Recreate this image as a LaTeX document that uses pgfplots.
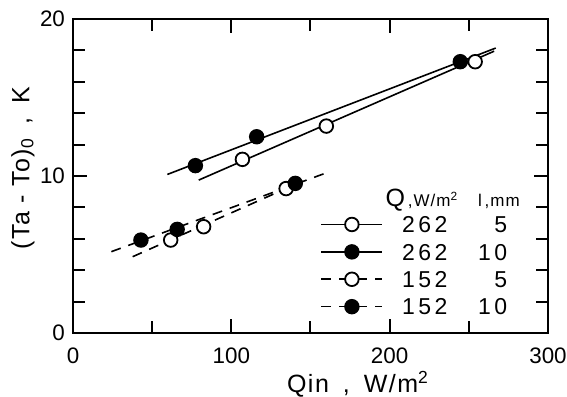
\documentclass[border=0pt]{standalone}
\usepackage{pgfplots}
\pgfplotsset{compat=1.18}
\usepackage{fontspec}
\setmainfont{Liberation Sans}
\newfontfamily\lsp[LetterSpace=15]{Liberation Sans}
\newfontfamily\lsa[LetterSpace=6]{Liberation Sans}
\begin{document}
\begin{tikzpicture}
\begin{axis}[
  name=ax,
  scale only axis,
  width=237.5pt, height=157pt,
  xmin=0, xmax=300, ymin=0, ymax=20,
  xtick={0,100,200,300}, minor xtick={50,150,250},
  ytick={0,10,20}, minor ytick={2,4,...,18},
  tick align=inside,
  major tick length=7pt, minor tick length=6pt,
  every axis/.append style={line width=1.4pt},
  axis line style={line width=1.4pt},
  tick style={line width=1pt, black},
  /pgf/number format/assume math mode=true,
  tick label style={font=\fontsize{11.2}{12}\selectfont},
  xticklabel style={yshift=-3.6pt},
  xlabel={\lsa Qin\hspace{7pt},\hspace{7pt}W/m\textsuperscript{2}},
  ylabel={\lsa (Ta - To)\textsubscript{0}\hspace{7pt},\hspace{7pt}K},
  every axis x label/.style={at={(rel axis cs:0.6,0)}, yshift=-25.5pt, anchor=center, font=\fontsize{12.5}{13}\selectfont},
  every axis y label/.style={at={(rel axis cs:0,0.525)}, xshift=-25pt, rotate=90, anchor=center, font=\fontsize{12.5}{13}\selectfont},
  legend style={draw=none, fill=none, at={(axis cs:155.5,7.53)}, anchor=north west, inner sep=0pt, row sep=5.4pt,
    font=\fontsize{11.5}{12}\selectfont,
    nodes={inner sep=0pt, text height=8.3pt, text depth=0pt},
    /tikz/every odd column/.style={column sep=9.5pt}},
  legend cell align=left,
]
% fitted lines
\addplot[forget plot, line width=0.8pt] coordinates {(79.4,9.74) (266,17.95)};
\addplot[forget plot, line width=0.8pt] coordinates {(59.6,10.1) (267,18.15)};
\addplot[forget plot, line width=0.8pt, dash pattern=on 5pt off 4pt] coordinates {(24.2,5.18) (160,10.2)};
\addplot[forget plot, line width=0.8pt, dash pattern=on 5pt off 4pt] coordinates {(37.7,4.86) (145,9.67)};
% data points
\addplot[only marks, mark=*, mark size=3.4pt, mark options={fill=white, draw=black, line width=0.9pt},
  legend image code/.code={\draw[sharp plot, line width=0.8pt, mark=*, mark size=3.4pt, mark options={fill=white, draw=black, line width=0.9pt, solid}, mark repeat=2, mark phase=2] plot coordinates {(0pt,0pt) (15.25pt,0pt) (30.5pt,0pt)};}]
  coordinates {(107,11.06) (160,13.18) (254,17.28)};
\addlegendentry{\makebox[52.5pt][s]{\lsp 262\hfill 5}}
\addplot[only marks, mark=*, mark size=3.4pt, mark options={fill=black, draw=black, line width=0.9pt},
  legend image code/.code={\draw[sharp plot, line width=0.8pt, mark=*, mark size=3.4pt, mark options={fill=black, draw=black, line width=0.9pt, solid}, mark repeat=2, mark phase=2] plot coordinates {(0pt,0pt) (15.25pt,0pt) (30.5pt,0pt)};}]
  coordinates {(77.3,10.66) (116,12.5) (244.6,17.28)};
\addlegendentry{\makebox[52.5pt][s]{\lsp 262\hfill 10}}
\addplot[only marks, mark=*, mark size=3.4pt, mark options={fill=white, draw=black, line width=0.9pt},
  legend image code/.code={\draw[sharp plot, line width=0.8pt, dash pattern=on 5pt off 4pt, mark=*, mark size=3.4pt, mark options={fill=white, draw=black, line width=0.9pt, solid}, mark repeat=2, mark phase=2] plot coordinates {(0pt,0pt) (15.25pt,0pt) (30.5pt,0pt)};}]
  coordinates {(61.7,5.92) (82.5,6.77) (134.6,9.2)};
\addlegendentry{\makebox[52.5pt][s]{\lsp 152\hfill 5}}
\addplot[only marks, mark=*, mark size=3.4pt, mark options={fill=black, draw=black, line width=0.9pt},
  legend image code/.code={\draw[sharp plot, line width=0.8pt, dash pattern=on 5pt off 4pt, mark=*, mark size=3.4pt, mark options={fill=black, draw=black, line width=0.9pt, solid}, mark repeat=2, mark phase=2] plot coordinates {(0pt,0pt) (15.25pt,0pt) (30.5pt,0pt)};}]
  coordinates {(42.9,5.92) (65.8,6.6) (140.4,9.53)};
\addlegendentry{\makebox[52.5pt][s]{\lsp 152\hfill 10}}
\node[anchor=west, inner sep=0pt] at (axis cs:196.5,8.47) {\fontsize{12.5}{13}\selectfont Q{\fontsize{8.5}{9}\selectfont\lsa\,,W/m\textsuperscript{2}\hspace{10pt}l\,,mm}};
\end{axis}
\pgfresetboundingbox
\path ([shift={(-36.5pt,-31.5pt)}]ax.south west) rectangle ([shift={(9.5pt,9.5pt)}]ax.north east);
\end{tikzpicture}
\end{document}
